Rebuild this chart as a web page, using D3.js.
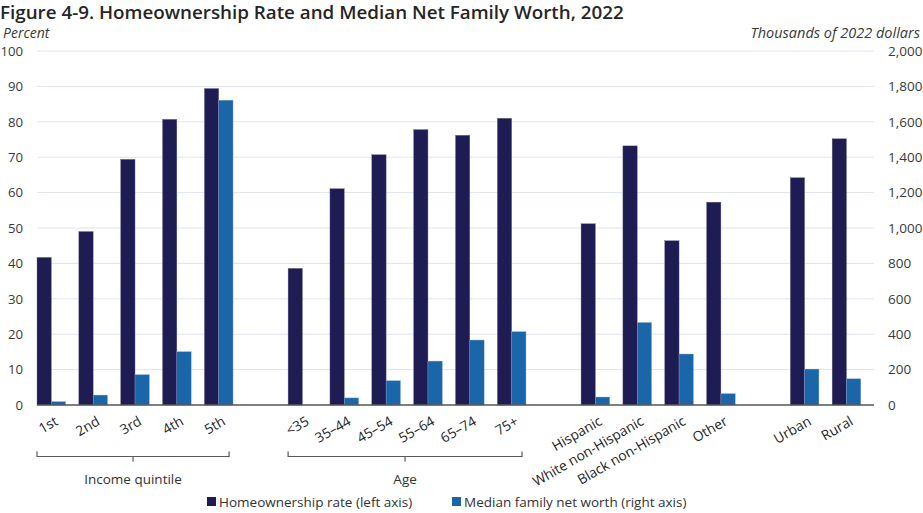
<!DOCTYPE html>
<html>
<head>
<meta charset="utf-8">
<script src="https://cdn.jsdelivr.net/npm/d3@7"></script>
<style>
  html, body { margin: 0; padding: 0; background: #fff; }
  svg { display: block; font-family: "Open Sans", "Noto Sans", sans-serif; }
</style>
</head>
<body>
<svg id="chart" width="923" height="513"></svg>
<script>
// Categories, in drawing order, with the group each belongs to
const categories = ["1st", "2nd", "3rd", "4th", "5th",
  "<35", "35–44", "45–54", "55–64", "65–74", "75+",
  "Hispanic", "White non-Hispanic", "Black non-Hispanic", "Other",
  "Urban", "Rural"];
const groups = ["income", "income", "income", "income", "income",
  "age", "age", "age", "age", "age", "age",
  "race", "race", "race", "race",
  "place", "place"];
const groupTitles = { income: "Income quintile", age: "Age" };

// Homeownership rate, percent (left axis)
const homeownership = [41.7, 49.0, 69.4, 80.7, 89.4,
  38.6, 61.1, 70.7, 77.8, 76.2, 81.0,
  51.2, 73.2, 46.4, 57.3,
  64.2, 75.2];
// Median family net worth, thousands of 2022 dollars (right axis)
const netWorth = [19, 56, 171, 301, 1722,
  null, 40, 137, 248, 367, 414,
  45, 466, 288, 64,
  203, 148];

const leftTicks = [0, 10, 20, 30, 40, 50, 60, 70, 80, 90, 100];
const rightTicks = [0, 200, 400, 600, 800, 1000, 1200, 1400, 1600, 1800, 2000];

const colors = { own: "#1f1c54", worth: "#1b65a9" };
const textColor = "#3a3a3a";

const svg = d3.select("#chart");
const plot = { left: 37, right: 874, top: 51, bottom: 405 };

// Slot keys: one per category plus an empty slot between groups
const slots = [];
categories.forEach((c, i) => {
  if (i > 0 && groups[i] !== groups[i - 1]) slots.push("gap" + i);
  slots.push(c);
});

const x = d3.scaleBand().domain(slots).range([plot.left, plot.right]).padding(0);
const step = x.step();
const barW = step * 0.342;

const yL = d3.scaleLinear().domain([0, 100]).range([plot.bottom, plot.top]);
const yR = d3.scaleLinear().domain([0, 2000]).range([plot.bottom, plot.top]);

// Title and axis captions
svg.append("text").attr("x", 0).attr("y", 19)
  .attr("font-size", 18.8).attr("font-weight", 600).attr("fill", "#262626")
  .text("Figure 4-9. Homeownership Rate and Median Net Family Worth, 2022");
svg.append("text").attr("x", 3).attr("y", 37.5)
  .attr("font-size", 14).attr("font-style", "italic").attr("fill", textColor)
  .text("Percent");
svg.append("text").attr("x", 920).attr("y", 37.5).attr("text-anchor", "end")
  .attr("font-size", 14.5).attr("font-style", "italic").attr("fill", textColor)
  .text("Thousands of 2022 dollars");

// Gridlines
svg.append("g").selectAll("line").data(leftTicks.filter(d => d > 0)).join("line")
  .attr("x1", plot.left).attr("x2", plot.right)
  .attr("y1", d => yL(d)).attr("y2", d => yL(d))
  .attr("stroke", "#dfe4f0").attr("stroke-width", 1);

// Left axis labels
const axL = svg.append("g").attr("transform", `translate(${plot.left},0)`)
  .call(d3.axisLeft(yL).tickValues(leftTicks).tickSize(0).tickPadding(14));
axL.select(".domain").remove();
axL.selectAll("text").attr("font-size", 13.2).attr("fill", textColor)
  .attr("font-family", "Open Sans, Noto Sans, sans-serif");

// Right axis labels
const axR = svg.append("g").attr("transform", `translate(${plot.right},0)`)
  .call(d3.axisRight(yR).tickValues(rightTicks).tickSize(0).tickPadding(14)
    .tickFormat(d3.format(",")));
axR.select(".domain").remove();
axR.selectAll("text").attr("font-size", 13.5).attr("fill", textColor)
  .attr("font-family", "Open Sans, Noto Sans, sans-serif");

// Bars
const rows = categories.map((c, i) => ({ c, own: homeownership[i], worth: netWorth[i] }));
svg.append("g").selectAll("rect").data(rows).join("rect")
  .attr("x", d => x(d.c)).attr("width", barW)
  .attr("y", d => yL(d.own)).attr("height", d => yL(0) - yL(d.own))
  .attr("fill", colors.own).attr("stroke", "#6f6d95").attr("stroke-width", 0.4);
svg.append("g").selectAll("rect").data(rows.filter(d => d.worth != null)).join("rect")
  .attr("x", d => x(d.c) + barW).attr("width", barW)
  .attr("y", d => yR(d.worth)).attr("height", d => yR(0) - yR(d.worth))
  .attr("fill", colors.worth).attr("stroke", "#7fa6cf").attr("stroke-width", 0.4);

// Baseline
svg.append("line").attr("x1", plot.left).attr("x2", plot.right)
  .attr("y1", plot.bottom).attr("y2", plot.bottom)
  .attr("stroke", "#555").attr("stroke-width", 1.3);

// Category labels, slanted
svg.append("g").selectAll("text").data(categories).join("text")
  .attr("transform", d => `translate(${x(d) + step / 2 + 1},${424}) rotate(-30)`)
  .attr("text-anchor", "end").attr("font-size", 13.8).attr("fill", "#262626")
  .text(d => d);

// Group brackets
Object.keys(groupTitles).forEach(g => {
  const members = categories.filter((c, i) => groups[i] === g);
  const x0 = x(members[0]);
  const x1 = x(members[members.length - 1]) + step * 0.59;
  const xm = (x0 + x1) / 2;
  const yb = 456.5;
  svg.append("path")
    .attr("d", `M${x0},${yb - 5}V${yb}H${x1}V${yb - 5}M${xm},${yb}V${yb + 5}`)
    .attr("fill", "none").attr("stroke", "#5a5a5a").attr("stroke-width", 1.2);
  svg.append("text").attr("x", xm).attr("y", 484).attr("text-anchor", "middle")
    .attr("font-size", 13.5).attr("fill", "#333").text(groupTitles[g]);
});

// Legend
const legend = [
  { label: "Homeownership rate (left axis)", color: colors.own, x: 207 },
  { label: "Median family net worth (right axis)", color: colors.worth, x: 452 }
];
const lg = svg.append("g").selectAll("g").data(legend).join("g")
  .attr("transform", d => `translate(${d.x},497)`);
lg.append("rect").attr("width", 9).attr("height", 9).attr("fill", d => d.color);
lg.append("text").attr("x", 12).attr("y", 9.5).attr("font-size", 13.5)
  .attr("fill", "#333").text(d => d.label);
</script>
</body>
</html>
